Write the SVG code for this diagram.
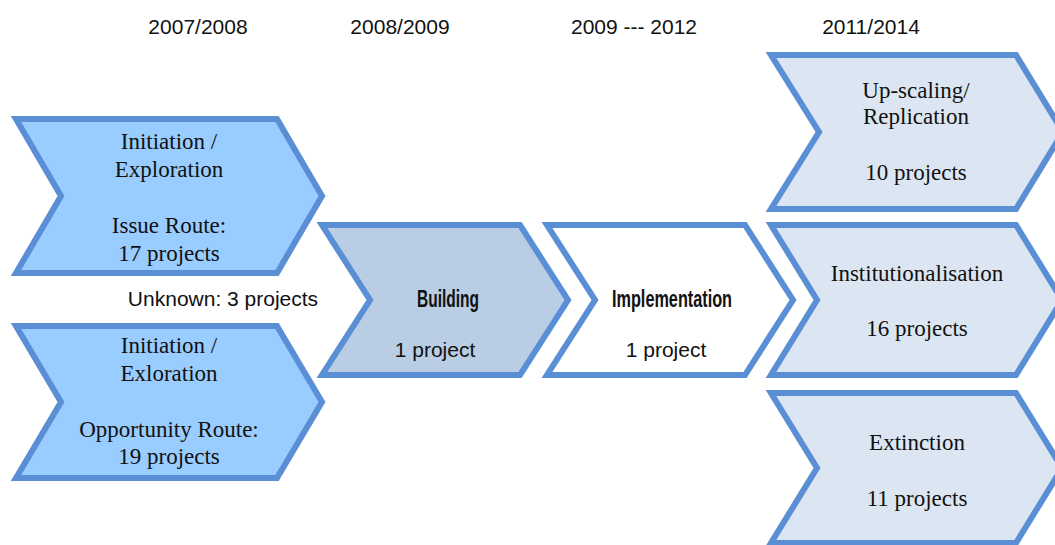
<svg xmlns="http://www.w3.org/2000/svg" width="1055" height="545" viewBox="0 0 1055 545">
<style>
.chev{stroke:#5a8fd6;stroke-width:6;stroke-linejoin:miter}
.c1{fill:#99ccff}
.c2{fill:#b9cde5}
.c3{fill:#ffffff}
.c4{fill:#dce6f2}
.serif{font-family:"Liberation Serif","Times New Roman",serif;font-size:23px;fill:#111;text-anchor:middle}
.sans{font-family:"Liberation Sans",Arial,sans-serif;font-size:21px;fill:#111;text-anchor:middle}
.bold{font-family:"Liberation Sans",Arial,sans-serif;font-size:23px;font-weight:bold;fill:#111;text-anchor:middle}
</style>
<rect width="1055" height="545" fill="#ffffff"/>
<g id="headers">
<text class="sans" x="198" y="34">2007/2008</text>
<text class="sans" x="400" y="34">2008/2009</text>
<text class="sans" x="634" y="34">2009 --- 2012</text>
<text class="sans" x="871" y="34">2011/2014</text>
</g>
<g id="connectors"></g>
<g id="issue">
<polygon class="chev c1" points="16,119 277,119 322,196 277,273 16,273 61,196"/>
<text class="serif" x="169" y="149">Initiation /</text>
<text class="serif" x="169" y="177">Exploration</text>
<text class="serif" x="169" y="233">Issue Route:</text>
<text class="serif" x="169" y="261">17 projects</text>
</g>
<g id="unknown">
<text class="sans" x="223" y="306">Unknown: 3 projects</text>
</g>
<g id="opportunity">
<polygon class="chev c1" points="16,326 277,326 322,402 277,478 16,478 61,402"/>
<text class="serif" x="169" y="353">Initiation /</text>
<text class="serif" x="169" y="381">Exloration</text>
<text class="serif" x="169" y="437">Opportunity Route:</text>
<text class="serif" x="169" y="464">19 projects</text>
</g>
<g id="building">
<polygon class="chev c2" points="322,225 520,225 568,300 520,375 322,375 370,300"/>
<text class="bold" x="448" y="307" textLength="62" lengthAdjust="spacingAndGlyphs">Building</text>
<text class="sans" x="435" y="357">1 project</text>
</g>
<g id="implementation">
<polygon class="chev c3" points="547,225 745,225 793,300 745,375 547,375 595,300"/>
<text class="bold" x="672" y="307" textLength="120" lengthAdjust="spacingAndGlyphs">Implementation</text>
<text class="sans" x="666" y="357">1 project</text>
</g>
<g id="upscaling">
<polygon class="chev c4" points="771,55 1016,55 1063,132 1016,209 771,209 819,132"/>
<text class="serif" x="916" y="98">Up-scaling/</text>
<text class="serif" x="916" y="124">Replication</text>
<text class="serif" x="916" y="180">10 projects</text>
</g>
<g id="institutionalisation">
<polygon class="chev c4" points="771,225 1016,225 1062,300 1016,375 771,375 817,300"/>
<text class="serif" x="917" y="281">Institutionalisation</text>
<text class="serif" x="917" y="336">16 projects</text>
</g>
<g id="extinction">
<polygon class="chev c4" points="771,393 1016,393 1062,468 1016,543 771,543 817,468"/>
<text class="serif" x="917" y="450">Extinction</text>
<text class="serif" x="917" y="506">11 projects</text>
</g>
</svg>
